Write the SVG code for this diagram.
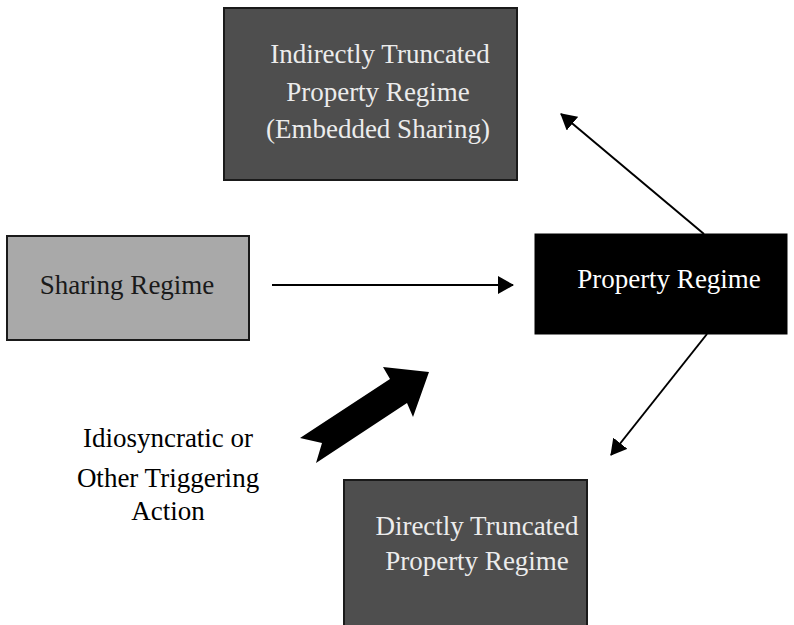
<svg xmlns="http://www.w3.org/2000/svg" width="794" height="625" viewBox="0 0 794 625">
<style>
text{font-family:"Liberation Serif","Times New Roman",serif;font-size:27px;text-anchor:middle}
.dark{fill:#4e4e4e;stroke:#1a1a1a;stroke-width:2}
.light{fill:#a9a9a9;stroke:#1a1a1a;stroke-width:2}
.black{fill:#000;stroke:#000;stroke-width:1}
.lt{fill:#ececec}
.conn{stroke:#000;stroke-width:2;fill:none}
</style>
<defs>
<marker id="ah" markerWidth="16" markerHeight="18" refX="15" refY="9" orient="auto" markerUnits="userSpaceOnUse">
<path d="M0,0 L16,9 L0,18 Z" fill="#000"/>
</marker>
</defs>
<g id="indirect">
<rect class="dark" x="224" y="8" width="293" height="172"/>
<text class="lt" x="380" y="63">Indirectly Truncated</text>
<text class="lt" x="378" y="101">Property Regime</text>
<text class="lt" x="378" y="138">(Embedded Sharing)</text>
</g>
<g id="sharing">
<rect class="light" x="7" y="236" width="242" height="104"/>
<text fill="#1a1a1a" x="127" y="294">Sharing Regime</text>
</g>
<g id="property">
<rect class="black" x="535" y="234" width="252" height="100"/>
<text fill="#fff" x="669" y="288">Property Regime</text>
</g>
<g id="direct">
<rect class="dark" x="344" y="480" width="243" height="150"/>
<text class="lt" x="477" y="535">Directly Truncated</text>
<text class="lt" x="477" y="570">Property Regime</text>
</g>
<g id="trigger">
<polygon points="300,438 390,379 383,367 429,372 413,417 407,403 316,463 322,443" fill="#000"/>
<text fill="#000" x="168" y="447">Idiosyncratic or</text>
<text fill="#000" x="168" y="487">Other Triggering</text>
<text fill="#000" x="168" y="520">Action</text>
</g>
<g id="connectors">
<line class="conn" x1="272" y1="285" x2="513" y2="285" marker-end="url(#ah)"/>
<line class="conn" x1="704" y1="234" x2="561" y2="114" marker-end="url(#ah)"/>
<line class="conn" x1="707" y1="334" x2="611" y2="455" marker-end="url(#ah)"/>
</g>
</svg>
